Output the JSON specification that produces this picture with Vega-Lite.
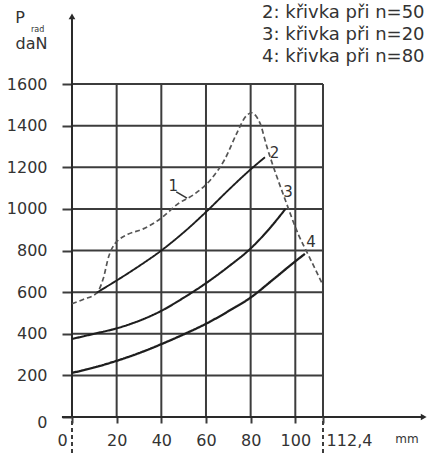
{
  "$schema": "https://vega.github.io/schema/vega-lite/v6.json",
  "width": 428,
  "height": 453,
  "autosize": {"type": "none"},
  "padding": 0,
  "background": "white",
  "config": {"view": {"stroke": null}, "font": "DejaVu Sans"},
  "datasets": {
    "hgrid": [
      {"v": 200, "d": 0, "d2": 112.4}, {"v": 400, "d": 0, "d2": 112.4}, {"v": 600, "d": 0, "d2": 112.4},
      {"v": 800, "d": 0, "d2": 112.4}, {"v": 1000, "d": 0, "d2": 112.4}, {"v": 1200, "d": 0, "d2": 112.4},
      {"v": 1400, "d": 0, "d2": 112.4}, {"v": 1600, "d": 0, "d2": 112.4}
    ],
    "vgrid": [
      {"d": 20, "v": 0, "v2": 1600}, {"d": 40, "v": 0, "v2": 1600}, {"d": 60, "v": 0, "v2": 1600},
      {"d": 80, "v": 0, "v2": 1600}, {"d": 100, "v": 0, "v2": 1600}, {"d": 112.4, "v": 0, "v2": 1600}
    ],
    "axisLines": [
      {"d": 0, "d2": 0, "v": 0, "v2": 1922},
      {"d": -4.5, "d2": 157, "v": 0, "v2": 0}
    ],
    "tails": [
      {"d": 0, "d2": 0, "v": -173, "v2": 0},
      {"d": 112.4, "d2": 112.4, "v": -173, "v2": 0}
    ],
    "arrows": [
      {"shape": "triangle-up", "d": 0, "v": 1925},
      {"shape": "triangle-right", "d": 157.5, "v": 0}
    ],
    "curves": [
      {"curve": "1", "d": 0, "v": 544}, {"curve": "1", "d": 5, "v": 565}, {"curve": "1", "d": 11, "v": 595},
      {"curve": "1", "d": 14, "v": 665}, {"curve": "1", "d": 16.4, "v": 770}, {"curve": "1", "d": 19, "v": 830},
      {"curve": "1", "d": 21, "v": 852}, {"curve": "1", "d": 25, "v": 878}, {"curve": "1", "d": 31.9, "v": 904},
      {"curve": "1", "d": 40, "v": 956}, {"curve": "1", "d": 47.4, "v": 1024}, {"curve": "1", "d": 54.8, "v": 1071},
      {"curve": "1", "d": 62.3, "v": 1143}, {"curve": "1", "d": 68.3, "v": 1236}, {"curve": "1", "d": 74.2, "v": 1373},
      {"curve": "1", "d": 77.5, "v": 1440}, {"curve": "1", "d": 80.5, "v": 1462}, {"curve": "1", "d": 82.5, "v": 1445},
      {"curve": "1", "d": 84.2, "v": 1412}, {"curve": "1", "d": 87.1, "v": 1305}, {"curve": "1", "d": 95.6, "v": 1040},
      {"curve": "1", "d": 101.5, "v": 874}, {"curve": "1", "d": 106, "v": 775}, {"curve": "1", "d": 112.4, "v": 633},
      {"curve": "2", "d": 11, "v": 597}, {"curve": "2", "d": 20, "v": 656}, {"curve": "2", "d": 30, "v": 725},
      {"curve": "2", "d": 40, "v": 800}, {"curve": "2", "d": 50, "v": 887}, {"curve": "2", "d": 60, "v": 985},
      {"curve": "2", "d": 70, "v": 1090}, {"curve": "2", "d": 80, "v": 1190}, {"curve": "2", "d": 86.4, "v": 1248},
      {"curve": "3", "d": 0, "v": 375}, {"curve": "3", "d": 10, "v": 400}, {"curve": "3", "d": 20, "v": 426},
      {"curve": "3", "d": 25.9, "v": 446}, {"curve": "3", "d": 33, "v": 475}, {"curve": "3", "d": 40, "v": 510},
      {"curve": "3", "d": 50, "v": 573}, {"curve": "3", "d": 60, "v": 643}, {"curve": "3", "d": 70, "v": 722},
      {"curve": "3", "d": 80, "v": 810}, {"curve": "3", "d": 88, "v": 900}, {"curve": "3", "d": 95.6, "v": 1000},
      {"curve": "4", "d": 0, "v": 212}, {"curve": "4", "d": 10, "v": 238}, {"curve": "4", "d": 20, "v": 270},
      {"curve": "4", "d": 30, "v": 307}, {"curve": "4", "d": 40, "v": 350}, {"curve": "4", "d": 50, "v": 397},
      {"curve": "4", "d": 60, "v": 448}, {"curve": "4", "d": 70, "v": 508}, {"curve": "4", "d": 80, "v": 574},
      {"curve": "4", "d": 90, "v": 660}, {"curve": "4", "d": 100, "v": 748}, {"curve": "4", "d": 104.3, "v": 784}
    ],
    "curveLabels": [
      {"label": "1", "d": 45.3, "v": 1108},
      {"label": "2", "d": 90.7, "v": 1270},
      {"label": "3", "d": 96.7, "v": 1082},
      {"label": "4", "d": 107, "v": 840}
    ],
    "leader": [{"d": 46.7, "d2": 51.5, "v": 1082, "v2": 1052}],
    "notes": [
      {"text": "2: křivka při n=50", "d": 85.1, "v": 1942},
      {"text": "3: křivka při n=20", "d": 85.1, "v": 1837},
      {"text": "4: křivka při n=80", "d": 85.1, "v": 1731}
    ],
    "titleBig": [
      {"text": "P", "d": -23.3, "v": 1915},
      {"text": "daN", "d": -18.1, "v": 1790}
    ],
    "titleSmall": [{"text": "rad", "d": -15.4, "v": 1862}],
    "unit": [{"text": "mm", "d": 150, "v": -106}]
  },
  "encoding": {
    "x": {
      "field": "d", "type": "quantitative",
      "scale": {"domain": [-32.24, 159.42], "nice": false, "zero": false},
      "axis": {
        "orient": "bottom", "offset": -36, "title": null,
        "values": [0, 20, 40, 60, 80, 100, 112.4],
        "labelExpr": "datum.value > 110 ? '112,4' : datum.label",
        "domain": false, "grid": false,
        "tickSize": 6, "tickWidth": 2, "tickColor": "#3c3c3c",
        "labelFontSize": 16, "labelColor": "#333333", "labelBaseline": "middle", "labelPadding": 17,
        "labelFlush": false, "labelOverlap": false,
        "labelOffset": {"condition": [{"test": "datum.value == 0", "value": -10}, {"test": "datum.value > 110", "value": 26}], "value": 0}
      }
    },
    "y": {
      "field": "v", "type": "quantitative",
      "scale": {"domain": [-173, 2003.8], "nice": false, "zero": false},
      "axis": {
        "orient": "left", "offset": -72, "title": null,
        "values": [0, 200, 400, 600, 800, 1000, 1200, 1400, 1600],
        "format": "d",
        "domain": false, "grid": false,
        "tickSize": 10, "tickWidth": 2, "tickColor": "#3c3c3c",
        "labelFontSize": 16, "labelColor": "#333333", "labelPadding": 15,
        "labelFlush": false, "labelOverlap": false,
        "labelOffset": {"condition": {"test": "datum.value == 0", "value": 6}, "value": 0}
      }
    }
  },
  "layer": [
    {
      "data": {"name": "hgrid"},
      "mark": {"type": "rule", "color": "#3c3c3c", "strokeWidth": 2},
      "encoding": {"x2": {"field": "d2"}}
    },
    {
      "data": {"name": "vgrid"},
      "mark": {"type": "rule", "color": "#3c3c3c", "strokeWidth": 2},
      "encoding": {"y2": {"field": "v2"}}
    },
    {
      "data": {"name": "axisLines"},
      "mark": {"type": "rule", "color": "#2a2a2a", "strokeWidth": 2},
      "encoding": {"x2": {"field": "d2"}, "y2": {"field": "v2"}}
    },
    {
      "data": {"name": "tails"},
      "mark": {"type": "rule", "color": "#3c3c3c", "strokeWidth": 2, "strokeDash": [4, 3]},
      "encoding": {"x2": {"field": "d2"}, "y2": {"field": "v2"}}
    },
    {
      "data": {"name": "arrows"},
      "mark": {"type": "point", "filled": true, "color": "#2a2a2a", "size": 45, "opacity": 1},
      "encoding": {
        "shape": {"field": "shape", "type": "nominal", "scale": null, "legend": null}
      }
    },
    {
      "data": {"name": "curves"},
      "mark": {"type": "line", "interpolate": "monotone"},
      "encoding": {
        "detail": {"field": "curve", "type": "nominal"},
        "color": {"field": "curve", "type": "nominal", "scale": {"domain": ["1", "2", "3", "4"], "range": ["#555555", "#1e1e1e", "#1e1e1e", "#1e1e1e"]}, "legend": null},
        "strokeDash": {"field": "curve", "type": "nominal", "scale": {"domain": ["1", "2", "3", "4"], "range": [[5, 3], [1, 0], [1, 0], [1, 0]]}, "legend": null},
        "strokeWidth": {"field": "curve", "type": "nominal", "scale": {"domain": ["1", "2", "3", "4"], "range": [1.7, 2.3, 2.3, 2.3]}, "legend": null}
      }
    },
    {
      "data": {"name": "leader"},
      "mark": {"type": "rule", "color": "#333333", "strokeWidth": 1.5},
      "encoding": {"x2": {"field": "d2"}, "y2": {"field": "v2"}}
    },
    {
      "data": {"name": "curveLabels"},
      "mark": {"type": "text", "fontSize": 15, "color": "#333333", "align": "center", "baseline": "middle"},
      "encoding": {"text": {"field": "label"}}
    },
    {
      "data": {"name": "notes"},
      "mark": {"type": "text", "fontSize": 18, "color": "#333333", "align": "left", "baseline": "middle"},
      "encoding": {"text": {"field": "text"}}
    },
    {
      "data": {"name": "titleBig"},
      "mark": {"type": "text", "fontSize": 16, "color": "#333333", "align": "center", "baseline": "middle"},
      "encoding": {"text": {"field": "text"}}
    },
    {
      "data": {"name": "titleSmall"},
      "mark": {"type": "text", "fontSize": 8, "color": "#333333", "align": "center", "baseline": "middle"},
      "encoding": {"text": {"field": "text"}}
    },
    {
      "data": {"name": "unit"},
      "mark": {"type": "text", "fontSize": 12, "color": "#333333", "align": "center", "baseline": "middle"},
      "encoding": {"text": {"field": "text"}}
    }
  ]
}
